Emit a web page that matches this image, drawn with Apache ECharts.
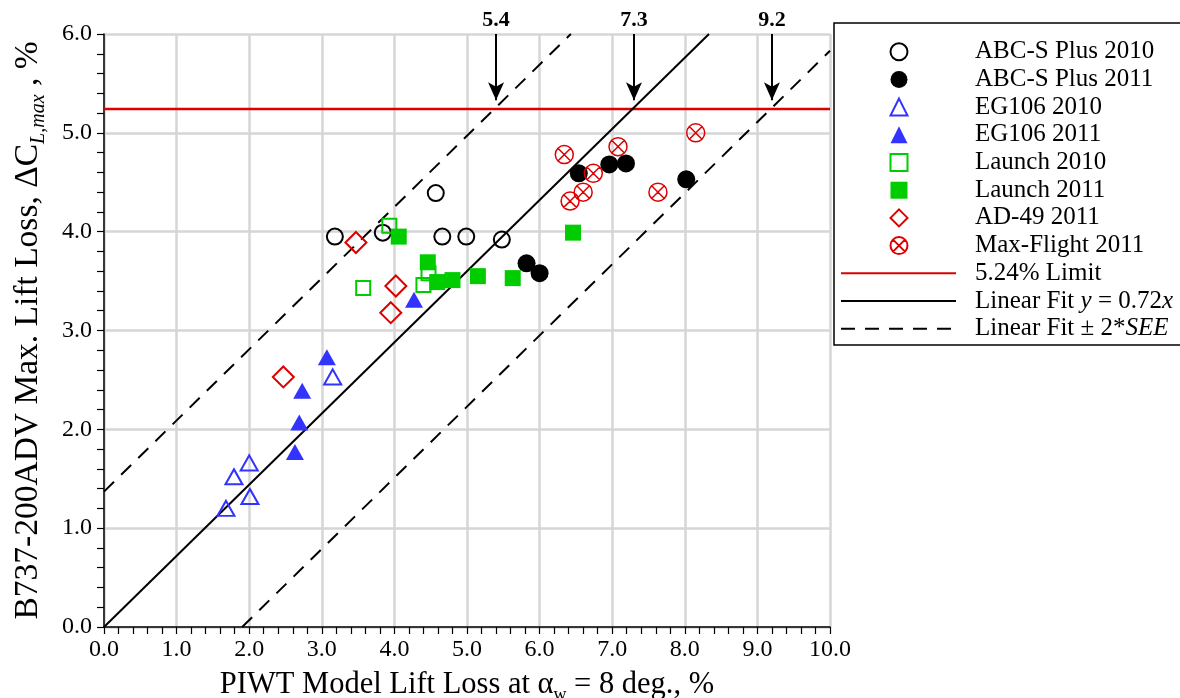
<!DOCTYPE html>
<html><head><meta charset="utf-8">
<script src="https://cdn.jsdelivr.net/npm/echarts@6/dist/echarts.min.js"></script>
<style>html,body{margin:0;padding:0;background:#fff;overflow:hidden}#c{width:1180px;height:698px}</style>
</head><body><div id="c"></div>
<script>
// ---- data ----
const abc2010 = [[3.18,3.95],[3.84,3.99],[4.57,4.39],[4.66,3.95],[4.99,3.95],[5.48,3.92]];
const abc2011 = [[5.82,3.68],[6.00,3.58],[6.54,4.59],[6.96,4.68],[7.19,4.69],[8.02,4.53]];
const eg2010 = [[1.68,1.20],[1.79,1.52],[2.00,1.66],[2.01,1.32],[3.15,2.53]];
const eg2011 = [[2.63,1.77],[2.69,2.07],[2.73,2.39],[3.07,2.73],[4.27,3.31]];
const launch2010 = [[3.57,3.43],[3.93,4.06],[4.40,3.46],[4.47,3.58]];
const launch2011 = [[4.06,3.95],[4.46,3.69],[4.59,3.49],[4.80,3.51],[5.15,3.55],[5.63,3.53],[6.46,3.99]];
const ad49 = [[2.47,2.53],[3.47,3.89],[3.95,3.18],[4.02,3.45]];
const maxFlight = [[6.34,4.78],[6.42,4.31],[6.60,4.40],[6.74,4.59],[7.08,4.86],[7.63,4.40],[8.15,5.00]];
const limitValue = 5.24;
const fitSlope = 0.72;
const twoSEE = 1.37;
const arrowValues = [5.4, 7.3, 9.2];
const xRange = [0, 10];
const yRange = [0, 6];
const markerNames = ['ABC-S Plus 2010','ABC-S Plus 2011','EG106 2010','EG106 2011','Launch 2010','Launch 2011','AD-49 2011','Max-Flight 2011'];
const lineNames = ['5.24% Limit','Linear Fit y = 0.72x','Linear Fit ± 2*SEE'];

// ---- helpers ----
const FONT = 'Liberation Serif';
function fitLine(b){
  const x0 = Math.max(xRange[0], (yRange[0]-b)/fitSlope);
  const x1 = Math.min(xRange[1], (yRange[1]-b)/fitSlope);
  return [[x0, fitSlope*x0+b],[x1, fitSlope*x1+b]];
}
const BLUE='#3333ff', GREEN='#00cc00', RED='#dd0000';
function sc(name, data, symbol, size, color, filled, bw){
  return {
    name, type:'scatter', data, symbol, symbolSize:size, symbolKeepAspect:true, z:5,
    itemStyle: filled ? {color, opacity:1} : {color:'rgba(0,0,0,0)', borderColor:color, borderWidth:bw||2, opacity:1},
    emphasis:{disabled:true}
  };
}
const crossCircle = 'path://M0,10A10,10,0,1,1,20,10A10,10,0,1,1,0,10ZM2.93,2.93L17.07,17.07M17.07,2.93L2.93,17.07';

const chart = echarts.init(document.getElementById('c'), null, {renderer:'canvas', width:1180, height:698});
const axisCommon = {
  type:'value',
  axisLine:{show:true, onZero:false, lineStyle:{color:'#000', width:1.5}},
  axisTick:{show:true, inside:false, length:7, lineStyle:{color:'#000', width:1.2}},
  minorTick:{show:true, splitNumber:5, length:7, lineStyle:{color:'#000', width:1.2}},
  splitLine:{show:true, lineStyle:{color:'#d6d6d6', width:2.5}},
  nameLocation:'middle'
};
const labelStyle = {formatter:v=>v.toFixed(1), fontSize:24, fontFamily:FONT, color:'#000'};
const legendFmt = {
  'Linear Fit y = 0.72x':'Linear Fit {i|y} = 0.72{i|x}',
  'Linear Fit ± 2*SEE':'Linear Fit ± 2*{i|SEE}'
};
const ROW = 27.7, ROW0 = 51.7;
const legendBase = {
  orient:'vertical', padding:0, itemHeight:17, itemGap:ROW-25, selectedMode:false, z:10,
  formatter: n => legendFmt[n] || n
};
function legendText(padLeft){
  return {fontFamily:FONT, fontSize:25, color:'#000', lineHeight:25, padding:[0,0,0,padLeft],
    rich:{i:{fontFamily:FONT, fontSize:25, fontStyle:'italic', color:'#000', lineHeight:25}}};
}
chart.setOption({
  animation:false,
  backgroundColor:'#fff',
  grid:{left:104, right:350, top:34, bottom:71, containLabel:false, outerBoundsMode:'none'},
  xAxis: Object.assign({}, axisCommon, {
    min:xRange[0], max:xRange[1], interval:1,
    axisLabel:Object.assign({margin:11}, labelStyle),
    name:'PIWT Model Lift Loss at α{sub|w} = 8 deg., %', nameGap:39,
    nameTextStyle:{fontSize:30.5, fontFamily:FONT, color:'#000', rich:{sub:{fontSize:18, fontFamily:FONT, color:'#000', verticalAlign:'bottom', lineHeight:38}}}
  }),
  yAxis: Object.assign({}, axisCommon, {
    min:yRange[0], max:yRange[1], interval:1,
    axisLabel:Object.assign({margin:12}, labelStyle),
    name:'B737-200ADV Max. Lift Loss, ΔC{sub|L,max} , %', nameGap:55, nameRotate:90,
    nameTextStyle:{fontSize:33.5, fontFamily:FONT, color:'#000', rich:{sub:{fontSize:20, fontFamily:FONT, fontStyle:'italic', color:'#000', verticalAlign:'bottom', lineHeight:42}}}
  }),
  graphic:[
    {type:'rect', z:1, shape:{x:834, y:23, width:352, height:322}, style:{fill:'#fff', stroke:'#000', lineWidth:1.5}}
  ],
  legend:[
    Object.assign({}, legendBase, {left:889.5, top:ROW0-12.5, itemWidth:17, textStyle:legendText(62.5), data:markerNames}),
    Object.assign({}, legendBase, {left:840, top:ROW0+8*ROW-12.5, itemWidth:115, textStyle:legendText(14),
      data:lineNames.map(n=>({name:n, itemStyle:{opacity:0}}))})
  ],
  series:[
    {name:'5.24% Limit', type:'line', data:[[xRange[0],limitValue],[xRange[1],limitValue]], symbol:'none', lineStyle:{color:RED, width:2.5}, itemStyle:{color:RED}, z:3, silent:true},
    {name:'Linear Fit y = 0.72x', type:'line', data:fitLine(0), symbol:'none', lineStyle:{color:'#000', width:2}, itemStyle:{color:'#000'}, z:3, silent:true},
    {name:'Linear Fit ± 2*SEE', type:'line', data:fitLine(twoSEE), symbol:'none', lineStyle:{color:'#000', width:2, type:[14,10]}, itemStyle:{color:'#000'}, z:3, silent:true},
    {name:'Linear Fit ± 2*SEE', type:'line', data:fitLine(-twoSEE), symbol:'none', lineStyle:{color:'#000', width:2, type:[14,10]}, itemStyle:{color:'#000'}, z:3, silent:true},
    {name:'arrows', type:'line', data:[], silent:true,
      markLine:{silent:true, symbol:['none','arrow'], symbolSize:[12,18], animation:false,
        lineStyle:{color:'#000', width:2, type:'solid'},
        label:{show:true, position:'start', formatter:'{b}', fontFamily:FONT, fontWeight:'bold', fontSize:22, color:'#000', distance:3},
        emphasis:{disabled:true},
        data: arrowValues.map(v=>[{coord:[v, yRange[1]], name:v.toFixed(1)},{coord:[v, limitValue+0.09]}])
      }},
    sc('ABC-S Plus 2010', abc2010, 'circle', 16, '#000', false),
    sc('ABC-S Plus 2011', abc2011, 'circle', 18, '#000', true),
    sc('EG106 2010', eg2010, 'triangle', [17,15], BLUE, false),
    sc('EG106 2011', eg2011, 'triangle', [18,16], BLUE, true),
    sc('Launch 2010', launch2010, 'rect', 14, GREEN, false),
    sc('Launch 2011', launch2011, 'rect', 16, GREEN, true),
    sc('AD-49 2011', ad49, 'diamond', 21, RED, false),
    sc('Max-Flight 2011', maxFlight, crossCircle, 18, RED, false, 1.5)
  ]
});
</script></body></html>
